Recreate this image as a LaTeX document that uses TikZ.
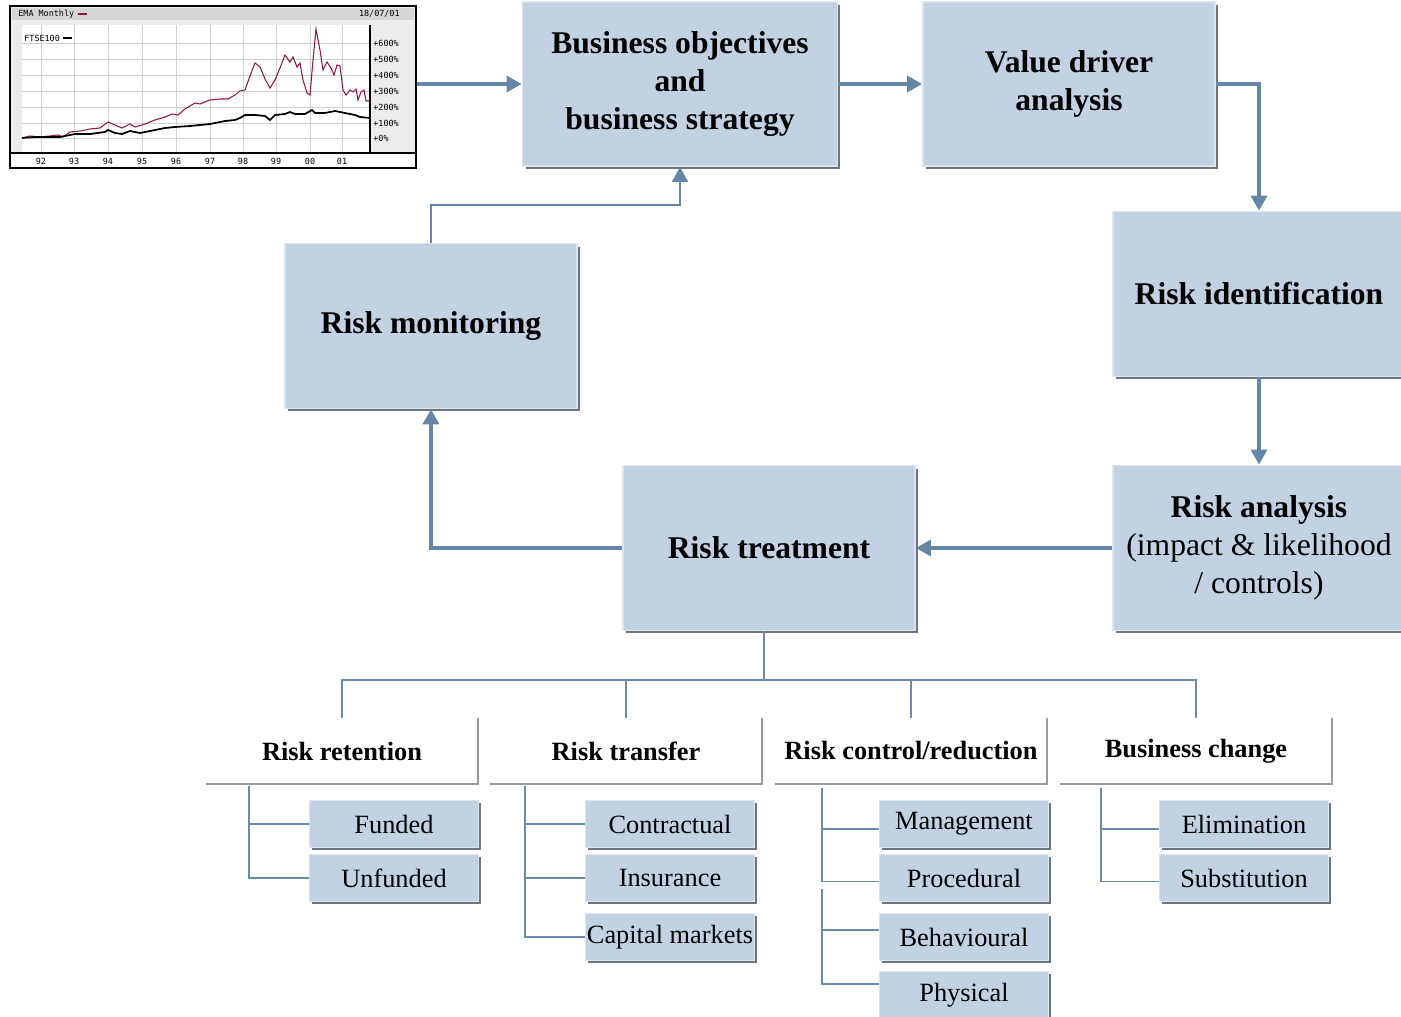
\documentclass[tikz,border=0pt]{standalone}
\usepackage{fontspec}
\setmainfont{Liberation Serif}
\newfontfamily\chartfont{DejaVu Sans Mono}
\usetikzlibrary{arrows.meta,shadows}
\definecolor{boxblue}{HTML}{C2D2E2}
\definecolor{boxedge}{HTML}{DCE5EE}
\definecolor{boxshade}{HTML}{6D757E}
\definecolor{linkblue}{HTML}{6686A8}
\definecolor{treeblue}{HTML}{6A8AAE}
\definecolor{catgray}{HTML}{9A9A9A}
\definecolor{emared}{HTML}{8B1A4A}
\definecolor{chartbg}{HTML}{ECECEC}
\definecolor{chartbar}{HTML}{D6D6D6}
\definecolor{chartgrid}{HTML}{D2D2D2}

\begin{document}
\begin{tikzpicture}[x=0.02cm,y=-0.02cm,
	stage/.style={fill=boxblue,draw=boxedge,line width=1pt,general shadow={fill=boxshade,shadow xshift=1.7pt,shadow yshift=-1.7pt},minimum width=5.84cm,minimum height=3.3cm,font=\fontsize{18}{21.6}\selectfont\bfseries,align=center,inner sep=2pt},
	category/.style={minimum width=5.42cm,minimum height=1.32cm,font=\fontsize{15}{18}\selectfont\bfseries,inner sep=0pt},
	option/.style={fill=boxblue,draw=boxedge,line width=0.8pt,general shadow={fill=boxshade,shadow xshift=1.5pt,shadow yshift=-1.5pt},minimum width=3.38cm,minimum height=0.94cm,font=\fontsize{15}{18}\selectfont,inner sep=0pt},
	flow/.style={draw=linkblue,line width=2.2pt,-{Triangle[length=8.5pt,width=9pt]}},
	branch/.style={draw=treeblue,line width=1.1pt},
	tick/.style={font=\fontsize{4.8}{5}\chartfont,inner sep=0pt}]
	\clip (0,0) rectangle (1401,1017);
	
	% share price chart
	\node[draw,line width=1.2pt,fill=chartbg,minimum width=8.12cm,minimum height=3.24cm,inner sep=0pt] (chart) at (213,87) {};
	\fill[chartbar] (12,8) rectangle (414,20);
	\fill[white] (22,25) rectangle (370,152);
	\foreach \x in {41,74,108,142,176,210,243,276,310,342}
		\draw[chartgrid,line width=0.5pt] (\x,25) -- (\x,152);
	\foreach \y in {43,59,75,91,107,123,138}
		\draw[chartgrid,line width=0.5pt] (22,\y) -- (370,\y);
	\draw[line width=0.8pt] (370,25) -- (370,152);
	\draw[emared,line width=0.6pt] (22,138) -- (30,136) -- (40,137) -- (50,136) -- (58,135) -- (63,137) -- (70,132) -- (80,131) -- (90,129) -- (100,128) -- (108,122) -- (115,125) -- (122,128) -- (130,124) -- (135,127) -- (145,124) -- (155,120) -- (165,117) -- (172,114) -- (178,115) -- (185,109) -- (195,103) -- (200,104) -- (210,100) -- (220,99) -- (228,99) -- (235,95) -- (240,91) -- (245,90) -- (250,76) -- (255,63) -- (260,67) -- (265,79) -- (270,88) -- (275,80) -- (280,68) -- (285,55) -- (290,62) -- (293,57) -- (297,67) -- (300,63) -- (303,80) -- (307,93) -- (310,95) -- (313,60) -- (316,29) -- (320,50) -- (323,70) -- (327,62) -- (331,68) -- (334,75) -- (337,65) -- (340,66) -- (343,90) -- (346,95) -- (350,90) -- (353,92) -- (356,89) -- (358,100) -- (361,92) -- (364,90) -- (366,101) -- (370,101);
	\draw[line width=1pt] (22,138) -- (35,137) -- (60,137) -- (75,134) -- (90,134) -- (105,132) -- (108,130) -- (115,133) -- (122,134) -- (130,131) -- (140,133) -- (150,131) -- (165,128) -- (175,127) -- (190,126) -- (210,124) -- (225,121) -- (235,120) -- (240,118) -- (245,115) -- (255,115) -- (265,116) -- (270,120) -- (275,115) -- (285,114) -- (290,112) -- (295,114) -- (305,114) -- (312,110) -- (315,113) -- (325,113) -- (335,111) -- (345,113) -- (355,115) -- (360,117) -- (370,118);
	\node[tick,anchor=west] (ema) at (18,14) {EMA Monthly};
	\draw[emared,line width=1pt] (ema.east) ++(3,0) -- ++(9,0);
	\node[tick,anchor=east] (date) at (400,14) {18/07/01};
	\node[tick,anchor=west] (ftse) at (24,38) {FTSE100};
	\draw[line width=1pt] (ftse.east) ++(3,0) -- ++(9,0);
	\foreach \y/\p in {43/600,59/500,75/400,91/300,107/200,123/100,138/0}
		\node[tick,anchor=west] (pct\p) at (373,\y) {+\p\%};
	\draw[line width=1.2pt,fill=white] (10,153) rectangle (416,168);
	\foreach \x/\yr in {41/92,74/93,108/94,142/95,176/96,210/97,243/98,276/99,310/00,342/01}
		\node[tick] (yr\yr) at (\x,161) {\yr};
	
	% risk cycle
	\node[stage,minimum width=6.3cm,minimum height=3.28cm] (bizobj) at (680,84) {Business objectives\\ and\\ business strategy};
	\node[stage,minimum height=3.28cm] (valdrv) at (1069,84) {Value driver\\ analysis};
	\node[stage] (riskid) at (1259,294) {Risk identification};
	\node[stage] (riskan) at (1259,548) {Risk analysis\\ {\mdseries(impact \& likelihood}\\ {\mdseries/ controls)}};
	\node[stage] (risktr) at (769,548) {Risk treatment};
	\node[stage] (riskmon) at (431,326) {Risk monitoring};
	
	\draw[flow] (chart.east |- bizobj.west) -- (bizobj.west);
	\draw[flow] (bizobj) -- (valdrv);
	\draw[flow] (valdrv.east) -| (riskid.north);
	\draw[flow] (riskid) -- (riskan);
	\draw[flow] (riskan) -- (risktr);
	\draw[flow,line width=2.7pt] (risktr.west) -| (riskmon.south);
	\draw[flow,line width=1pt] (riskmon.north) -- ++(0,-38) -| (bizobj.south);
	
	% treatment options
	\node[category] (rret) at (342,751) {Risk retention};
	\node[category] (rtra) at (626,751) {Risk transfer};
	\node[category] (rctl) at (911,751) {Risk control/reduction};
	\node[category] (bchg) at (1196,751) {Business change};
	\foreach \c in {rret,rtra,rctl,bchg}
		\draw[catgray,line width=1.1pt] (\c.north east) -- (\c.south east) -- (\c.south west);
	
	\coordinate (treebar) at (764,680);
	\draw[branch] (risktr.south -| treebar) -- (treebar);
	\foreach \c in {rret,rtra,rctl,bchg}
		\draw[branch] (\c.north) |- (treebar);
	
	\node[option] (fund) at (394,824) {Funded};
	\node[option] (unfd) at (394,878) {Unfunded};
	\node[option] (contr) at (670,824) {Contractual};
	\node[option] (insur) at (670,878) {Insurance};
	\node[option] (capm) at (670,937) {Capital markets};
	\node[option] (mgmt) at (964,824) {Management};
	\node[option] (proc) at (964,878) {Procedural};
	\node[option] (behv) at (964,937) {Behavioural};
	\node[option] (phys) at (964,995) {Physical};
	\node[option] (elim) at (1244,824) {Elimination};
	\node[option] (subs) at (1244,878) {Substitution};
	
	\coordinate (retspine) at (249,786);
	\coordinate (traspine) at (525,786);
	\coordinate (ctlspine) at (822,788);
	\coordinate (ctlspinelow) at (822,889);
	\coordinate (chgspine) at (1101,788);
	\foreach \o in {fund,unfd}
		\draw[branch] (retspine) |- (\o.west);
	\foreach \o in {contr,insur,capm}
		\draw[branch] (traspine) |- (\o.west);
	\foreach \o/\d in {mgmt/-3pt,proc/-2pt}
		\draw[branch] (ctlspine) |- ([yshift=\d]\o.west);
	\foreach \o/\d in {behv/4pt,phys/6pt}
		\draw[branch] (ctlspinelow) |- ([yshift=\d]\o.west);
	\foreach \o/\d in {elim/-3pt,subs/-2pt}
		\draw[branch] (chgspine) |- ([yshift=\d]\o.west);
\end{tikzpicture}
\end{document}
